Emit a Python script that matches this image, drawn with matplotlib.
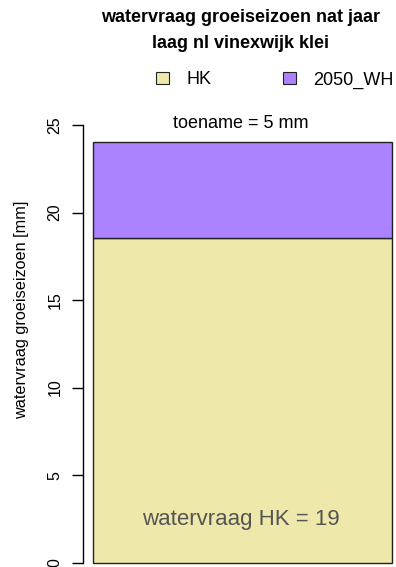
import matplotlib
matplotlib.use('Agg')
import matplotlib.pyplot as plt
from matplotlib.patches import Patch

plt.rcParams['font.family'] = ['Liberation Sans', 'DejaVu Sans']

# Data
categories = ['HK', '2050_WH']
values = [18.56, 24.05]          # HK and total 2050_WH (mm)
colors = ['#EEE8AA', '#AB82FF']
yticks = [0, 5, 10, 15, 20, 25]
toename_label = 'toename = 5 mm'
hk_label = 'watervraag HK = 19'

fig = plt.figure(figsize=(3.96, 5.67), dpi=100)
W, H = 396, 567
ax = fig.add_axes([82.7 / W, (H - 562.7) / H, (391.7 - 82.7) / W, (562.7 - 125) / H])

# stacked bar: HK at bottom, increment on top
ax.bar(0, values[0], width=1, color=colors[0], edgecolor='#222222', linewidth=1, clip_on=False)
ax.bar(0, values[1] - values[0], bottom=values[0], width=1, color=colors[1],
       edgecolor='#222222', linewidth=1, clip_on=False)

ax.set_xlim(-0.5 - 10.3 / 298.7, 0.5)
ax.set_ylim(0, 25)
for s in ['top', 'right', 'bottom']:
    ax.spines[s].set_visible(False)
ax.spines['left'].set_bounds(0, 25)
ax.spines['left'].set_linewidth(1)
ax.set_xticks([])
ax.set_yticks(yticks)
ax.set_yticklabels([str(t) for t in yticks], rotation=90, va='center', fontsize=11.5)
ax.tick_params(axis='y', length=8, width=1, pad=6.5)

fig.text(22 / W, 1 - 309.5 / H, 'watervraag groeiseizoen [mm]', rotation=90,
         ha='center', va='center', fontsize=11.7)

fig.text(241 / W, 1 - 18 / H, 'watervraag groeiseizoen nat jaar', ha='center', va='center',
         fontsize=13, fontweight='bold')
fig.text(241 / W, 1 - 43 / H, 'laag nl vinexwijk klei', ha='center', va='center',
         fontsize=13, fontweight='bold')

handles = [Patch(facecolor=c, edgecolor='#222222', linewidth=0.8) for c in colors]
fig.legend(handles, categories, ncol=2, frameon=False, loc='center',
           bbox_to_anchor=(275 / W, 1 - 80 / H), fontsize=13,
           handlelength=0.72, handleheight=0.6, handletextpad=0.95, columnspacing=4.0)

fig.text(241 / W, 1 - 123 / H, toename_label, ha='center', va='center', fontsize=13)
fig.text(241 / W, 1 - 520 / H, hk_label, ha='center', va='center', fontsize=16, color='#555555')

fig.savefig('out.png', dpi=100)
